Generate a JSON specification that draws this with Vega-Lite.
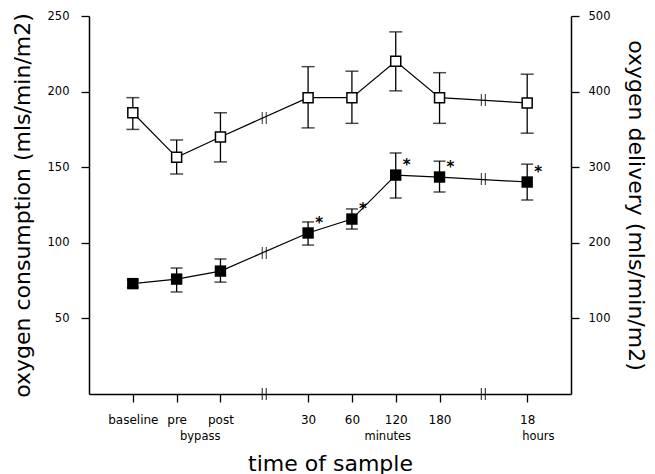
{
  "$schema": "https://vega.github.io/schema/vega-lite/v6.json",
  "width": 482,
  "height": 378,
  "autosize": {"type": "none"},
  "padding": {"left": 89, "top": 16, "right": 84, "bottom": 80},
  "background": "white",
  "datasets": {
    "pts": [
      {"i": 1, "t": "baseline", "cons": 73, "clo": 70.5, "chi": 75.5, "del": 372, "dlo": 350, "dhi": 392, "sig": false},
      {"i": 2, "t": "pre", "cons": 76, "clo": 67.5, "chi": 83.3, "del": 313, "dlo": 291, "dhi": 336, "sig": false},
      {"i": 3, "t": "post", "cons": 81.3, "clo": 74, "chi": 89.3, "del": 340, "dlo": 307, "dhi": 372, "sig": false},
      {"i": 4, "t": "30", "cons": 106.5, "clo": 98.5, "chi": 113.8, "del": 392, "dlo": 352, "dhi": 433, "sig": true},
      {"i": 5, "t": "60", "cons": 115.7, "clo": 109.1, "chi": 122.4, "del": 392, "dlo": 358, "dhi": 427, "sig": true},
      {"i": 6, "t": "120", "cons": 144.8, "clo": 129.6, "chi": 159.4, "del": 440, "dlo": 401, "dhi": 479, "sig": true},
      {"i": 7, "t": "180", "cons": 143.5, "clo": 133.6, "chi": 154, "del": 392, "dlo": 358, "dhi": 425, "sig": true},
      {"i": 8, "t": "18", "cons": 140.2, "clo": 128.3, "chi": 152, "del": 385, "dlo": 345, "dhi": 423, "sig": true}
    ],
    "brk": [
      {"t": "b1", "cons": 93.3, "del": 365},
      {"t": "b2", "cons": 142.2, "del": 389}
    ]
  },
  "encoding": {
    "x": {
      "field": "t",
      "type": "nominal",
      "scale": {"type": "point", "domain": ["baseline", "pre", "post", "b1", "30", "60", "120", "180", "b2", "18"], "padding": 1},
      "axis": {
        "values": ["baseline", "pre", "post", "30", "60", "120", "180", "18"],
        "title": "time of sample",
        "titleFontSize": 22,
        "titleY": 76,
        "titleBaseline": "alphabetic",
        "labelFontSize": 12,
        "labelAngle": 0,
        "labelPadding": 12,
        "tickSize": 8,
        "tickWidth": 1.3,
        "domainWidth": 1.5
      }
    }
  },
  "layer": [
    {
      "layer": [
        {
          "data": {"name": "pts"},
          "mark": {"type": "rule", "color": "black", "strokeWidth": 1.3},
          "encoding": {
            "y": {
              "field": "clo", "type": "quantitative",
              "scale": {"domain": [0, 250], "nice": false, "zero": true},
              "axis": {
                "values": [50, 100, 150, 200, 250],
                "title": "oxygen consumption (mls/min/m2)",
                "titleFontSize": 22,
                "titlePadding": 13,
                "labelFontSize": 11.5,
                "labelPadding": 12,
                "tickSize": 8,
                "tickWidth": 1.3,
                "domainWidth": 1.5
              }
            },
            "y2": {"field": "chi"}
          }
        },
        {
          "data": {"name": "pts"},
          "mark": {"type": "tick", "color": "black", "thickness": 1.5, "size": 12},
          "encoding": {"y": {"field": "clo", "type": "quantitative"}}
        },
        {
          "data": {"name": "pts"},
          "mark": {"type": "tick", "color": "black", "thickness": 1.5, "size": 12},
          "encoding": {"y": {"field": "chi", "type": "quantitative"}}
        },
        {
          "data": {"name": "pts"},
          "mark": {"type": "line", "color": "black", "strokeWidth": 1.2},
          "encoding": {
            "y": {"field": "cons", "type": "quantitative"},
            "order": {"field": "i"}
          }
        },
        {
          "data": {"name": "pts"},
          "mark": {"type": "point", "shape": "square", "filled": true, "color": "black", "size": 130, "opacity": 1},
          "encoding": {"y": {"field": "cons", "type": "quantitative"}}
        },
        {
          "data": {"name": "pts"},
          "transform": [{"filter": "datum.sig"}],
          "mark": {"type": "text", "text": "*", "font": "DejaVu Sans", "fontSize": 15, "fontWeight": "bold", "dx": 11, "dy": -10, "color": "black", "baseline": "middle"},
          "encoding": {"y": {"field": "cons", "type": "quantitative"}}
        },
        {
          "data": {"name": "brk"},
          "mark": {"type": "tick", "orient": "vertical", "color": "black", "thickness": 1.2, "size": 12, "xOffset": -2},
          "encoding": {"y": {"field": "cons", "type": "quantitative"}}
        },
        {
          "data": {"name": "brk"},
          "mark": {"type": "tick", "orient": "vertical", "color": "black", "thickness": 1.2, "size": 12, "xOffset": 2},
          "encoding": {"y": {"field": "cons", "type": "quantitative"}}
        },
        {
          "data": {"name": "brk"},
          "mark": {"type": "tick", "orient": "vertical", "color": "black", "thickness": 1.3, "size": 12, "xOffset": -2},
          "encoding": {"y": {"datum": 0, "type": "quantitative"}}
        },
        {
          "data": {"name": "brk"},
          "mark": {"type": "tick", "orient": "vertical", "color": "black", "thickness": 1.3, "size": 12, "xOffset": 2},
          "encoding": {"y": {"datum": 0, "type": "quantitative"}}
        },
        {
          "data": {"values": [{"t": "post", "label": "bypass"}]},
          "mark": {"type": "text", "font": "DejaVu Sans", "fontSize": 11.5, "align": "right", "baseline": "middle", "dy": 43, "dx": 0, "color": "black"},
          "encoding": {"y": {"datum": 0, "type": "quantitative"}, "text": {"field": "label"}}
        },
        {
          "data": {"values": [{"t": "120", "label": "minutes"}]},
          "mark": {"type": "text", "font": "DejaVu Sans", "fontSize": 11.5, "align": "center", "baseline": "middle", "dy": 43, "dx": -8, "color": "black"},
          "encoding": {"y": {"datum": 0, "type": "quantitative"}, "text": {"field": "label"}}
        },
        {
          "data": {"values": [{"t": "18", "label": "hours"}]},
          "mark": {"type": "text", "font": "DejaVu Sans", "fontSize": 11.5, "align": "left", "baseline": "middle", "dy": 43, "dx": -5, "color": "black"},
          "encoding": {"y": {"datum": 0, "type": "quantitative"}, "text": {"field": "label"}}
        }
      ]
    },
    {
      "layer": [
        {
          "data": {"name": "pts"},
          "mark": {"type": "rule", "color": "black", "strokeWidth": 1.3},
          "encoding": {
            "y": {
              "field": "dlo", "type": "quantitative",
              "scale": {"domain": [0, 500], "nice": false, "zero": true},
              "axis": {
                "orient": "right",
                "values": [100, 200, 300, 400, 500],
                "title": "oxygen delivery (mls/min/m2)",
                "titleFontSize": 22,
                "titlePadding": 14,
                "labelFontSize": 11.5,
                "labelPadding": 9,
                "tickSize": 8,
                "tickWidth": 1.3,
                "domainWidth": 1.5
              }
            },
            "y2": {"field": "dhi"}
          }
        },
        {
          "data": {"name": "pts"},
          "mark": {"type": "tick", "color": "black", "thickness": 1.5, "size": 13},
          "encoding": {"y": {"field": "dlo", "type": "quantitative"}}
        },
        {
          "data": {"name": "pts"},
          "mark": {"type": "tick", "color": "black", "thickness": 1.5, "size": 13},
          "encoding": {"y": {"field": "dhi", "type": "quantitative"}}
        },
        {
          "data": {"name": "pts"},
          "mark": {"type": "line", "color": "black", "strokeWidth": 1.2},
          "encoding": {
            "y": {"field": "del", "type": "quantitative"},
            "order": {"field": "i"}
          }
        },
        {
          "data": {"name": "pts"},
          "mark": {"type": "point", "shape": "square", "filled": false, "fill": "white", "stroke": "black", "strokeWidth": 1.5, "size": 100, "opacity": 1, "fillOpacity": 1},
          "encoding": {"y": {"field": "del", "type": "quantitative"}}
        },
        {
          "data": {"name": "brk"},
          "mark": {"type": "tick", "orient": "vertical", "color": "black", "thickness": 1.2, "size": 12, "xOffset": -2},
          "encoding": {"y": {"field": "del", "type": "quantitative"}}
        },
        {
          "data": {"name": "brk"},
          "mark": {"type": "tick", "orient": "vertical", "color": "black", "thickness": 1.2, "size": 12, "xOffset": 2},
          "encoding": {"y": {"field": "del", "type": "quantitative"}}
        }
      ]
    }
  ],
  "resolve": {"scale": {"y": "independent"}},
  "config": {
    "view": {"stroke": null},
    "axis": {
      "grid": false,
      "domainColor": "black",
      "tickColor": "black",
      "labelColor": "black",
      "titleColor": "black",
      "labelFont": "DejaVu Sans",
      "titleFont": "DejaVu Sans",
      "titleFontWeight": "normal"
    }
  }
}
